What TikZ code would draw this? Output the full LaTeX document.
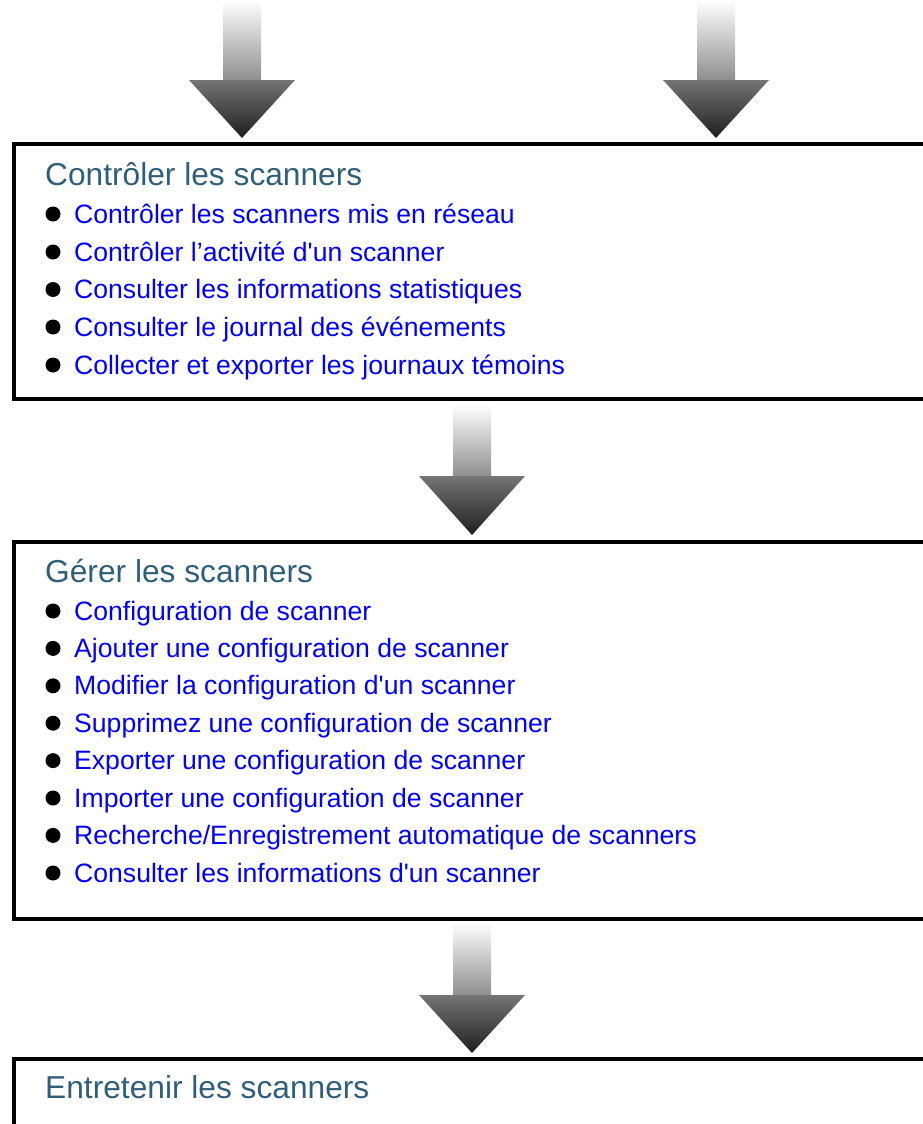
\documentclass[tikz,border=0pt]{standalone}
\usepackage{fontspec}
\setmainfont{Liberation Sans}
\usepackage{tikz}

\definecolor{titleteal}{HTML}{2F5E7B}
\definecolor{linkblue}{HTML}{0000FF}
\definecolor{shaftgray}{HTML}{8E8E8E}
\definecolor{headgray}{HTML}{757575}
\definecolor{tipgray}{HTML}{1E1E1E}

\tikzset{
  box/.style={draw=black, line width=3.2pt},
  title/.style={anchor=base west, inner sep=0pt, text=titleteal, font=\fontsize{31.7}{36}\selectfont},
  entry/.style={anchor=base west, inner sep=0pt, text=linkblue, font=\fontsize{26.6}{30}\selectfont},
  shaft/.style={top color=white, bottom color=shaftgray},
  head/.style={top color=headgray, bottom color=tipgray}
}

\begin{document}
\begin{tikzpicture}[x=1pt, y=-1pt]
                \useasboundingbox (0,0) rectangle (923,1124);
                \clip (0,0) rectangle (923,1124);

                % arrows into the first box
                \shade[shaft] (223,0) rectangle (261,80.5);
                \shade[head] (189,80) -- (295,80) -- (242,138) -- cycle;
                \shade[shaft] (697,0) rectangle (735,80.5);
                \shade[head] (663,80) -- (769,80) -- (716,138) -- cycle;

                % first box
                \draw[box] (14,144) rectangle (960,399);
                \node[title] (ctl) at (45,185) {Contrôler les scanners};
                \node[entry] (ctl1) at (74,223) {Contrôler les scanners mis en réseau};
                \node[entry] (ctl2) at (74,261) {Contrôler l’activité d\textquotesingle un scanner};
                \node[entry] (ctl3) at (74,298.5) {Consulter les informations statistiques};
                \node[entry] (ctl4) at (74,336) {Consulter le journal des événements};
                \node[entry] (ctl5) at (74,374) {Collecter et exporter les journaux témoins};
                \fill (53,214) circle (7.5pt);
                \fill (53,252) circle (7.5pt);
                \fill (53,289.5) circle (7.5pt);
                \fill (53,327) circle (7.5pt);
                \fill (53,365) circle (7.5pt);

                \shade[shaft] (453,404) rectangle (491,476.5);
                \shade[head] (419,476) -- (525,476) -- (472,535) -- cycle;

                % second box
                \draw[box] (14,542) rectangle (960,919);
                \node[title] (mgr) at (45,582) {Gérer les scanners};
                \node[entry] (mgr1) at (74,620) {Configuration de scanner};
                \node[entry] (mgr2) at (74,657.4) {Ajouter une configuration de scanner};
                \node[entry] (mgr3) at (74,694.8) {Modifier la configuration d\textquotesingle un scanner};
                \node[entry] (mgr4) at (74,732.2) {Supprimez une configuration de scanner};
                \node[entry] (mgr5) at (74,769.6) {Exporter une configuration de scanner};
                \node[entry] (mgr6) at (74,807) {Importer une configuration de scanner};
                \node[entry] (mgr7) at (74,844.4) {Recherche/Enregistrement automatique de scanners};
                \node[entry] (mgr8) at (74,882) {Consulter les informations d\textquotesingle un scanner};
                \fill (53,611) circle (7.5pt);
                \fill (53,648.4) circle (7.5pt);
                \fill (53,685.8) circle (7.5pt);
                \fill (53,723.2) circle (7.5pt);
                \fill (53,760.6) circle (7.5pt);
                \fill (53,798) circle (7.5pt);
                \fill (53,835.4) circle (7.5pt);
                \fill (53,873) circle (7.5pt);

                \shade[shaft] (453,922) rectangle (491,995.5);
                \shade[head] (419,995) -- (525,995) -- (472,1053) -- cycle;

                % third box
                \draw[box] (14,1059) rectangle (960,1160);
                \node[title] (mnt) at (45,1098) {Entretenir les scanners};
            \end{tikzpicture}
\end{document}
